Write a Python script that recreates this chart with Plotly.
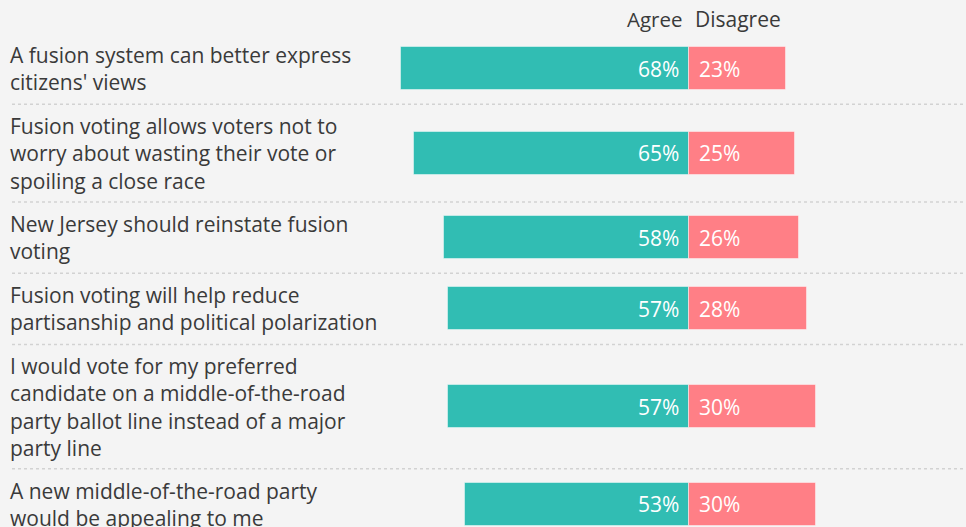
import plotly.graph_objects as go

categories = [
    "A fusion system can better express<br>citizens' views",
    "Fusion voting allows voters not to<br>worry about wasting their vote or<br>spoiling a close race",
    "New Jersey should reinstate fusion<br>voting",
    "Fusion voting will help reduce<br>partisanship and political polarization",
    "I would vote for my preferred<br>candidate on a middle-of-the-road<br>party ballot line instead of a major<br>party line",
    "A new middle-of-the-road party<br>would be appealing to me",
]
agree = [68, 65, 58, 57, 57, 53]
disagree = [23, 25, 26, 28, 30, 30]
series_names = ["Agree", "Disagree"]

W, H = 966, 527
TEAL = "#31bdb3"
SALMON = "#ff7f86"
TEXT = "#3a3a3a"
BG = "#f4f4f4"
FONT = "Open Sans"

# layout geometry (pixels)
center_px = 689
px_per_pct = 4.23
line_h = 26.6
row_pad = 18
top = 33
bar_h = 43

rows_y = []
seps = []
y = top
for c in categories:
    n = len(c.split("<br>"))
    h = line_h * n + row_pad
    rows_y.append(y + h / 2)
    y += h
    seps.append(y)

fig = go.Figure()
fig.add_trace(go.Bar(
    y=rows_y, x=[-v for v in agree], orientation="h", width=bar_h,
    marker=dict(color=TEAL, line=dict(color="rgba(255,255,255,0.45)", width=1)),
    name=series_names[0], hoverinfo="skip",
))
fig.add_trace(go.Bar(
    y=rows_y, x=disagree, orientation="h", width=bar_h,
    marker=dict(color=SALMON, line=dict(color="rgba(255,255,255,0.45)", width=1)),
    name=series_names[1], hoverinfo="skip",
))

annotations = []
for yc, c, a, d in zip(rows_y, categories, agree, disagree):
    annotations.append(dict(
        x=9 / W, xref="paper", y=yc, yref="y", text=c, showarrow=False,
        xanchor="left", yanchor="middle", align="left", borderpad=0,
        font=dict(family=FONT, size=21, color=TEXT),
    ))
    annotations.append(dict(
        x=0, y=yc, xref="x", yref="y", text=f"{a}%", showarrow=False,
        xanchor="right", yanchor="middle", xshift=-8,
        font=dict(family=FONT, size=21, color="white"),
    ))
    annotations.append(dict(
        x=0, y=yc, xref="x", yref="y", text=f"{d}%", showarrow=False,
        xanchor="left", yanchor="middle", xshift=8,
        font=dict(family=FONT, size=21, color="white"),
    ))

annotations.append(dict(
    x=0, y=19, xref="x", yref="y", text=series_names[0], showarrow=False,
    xanchor="right", yanchor="middle", xshift=-4,
    font=dict(family=FONT, size=20.5, color=TEXT),
))
annotations.append(dict(
    x=0, y=19, xref="x", yref="y", text=series_names[1], showarrow=False,
    xanchor="left", yanchor="middle", xshift=4,
    font=dict(family=FONT, size=21, color=TEXT),
))

shapes = []
for s in seps:
    shapes.append(dict(
        type="line", xref="paper", yref="y", x0=12 / W, x1=1, y0=s, y1=s,
        line=dict(color="#d2d2d2", width=1.5, dash="dot"), layer="below",
    ))

fig.update_layout(
    width=W, height=H,
    margin=dict(l=0, r=0, t=0, b=0),
    paper_bgcolor=BG, plot_bgcolor=BG,
    showlegend=False, barmode="overlay", bargap=0,
    xaxis=dict(range=[-center_px / px_per_pct, (W - center_px) / px_per_pct],
               visible=False, fixedrange=True),
    yaxis=dict(range=[H, 0], visible=False, fixedrange=True),
    annotations=annotations, shapes=shapes,
)

fig.write_html("out.html", config={"displayModeBar": False},
               post_script="document.body.style.margin='0';document.body.style.background='%s';" % BG)
